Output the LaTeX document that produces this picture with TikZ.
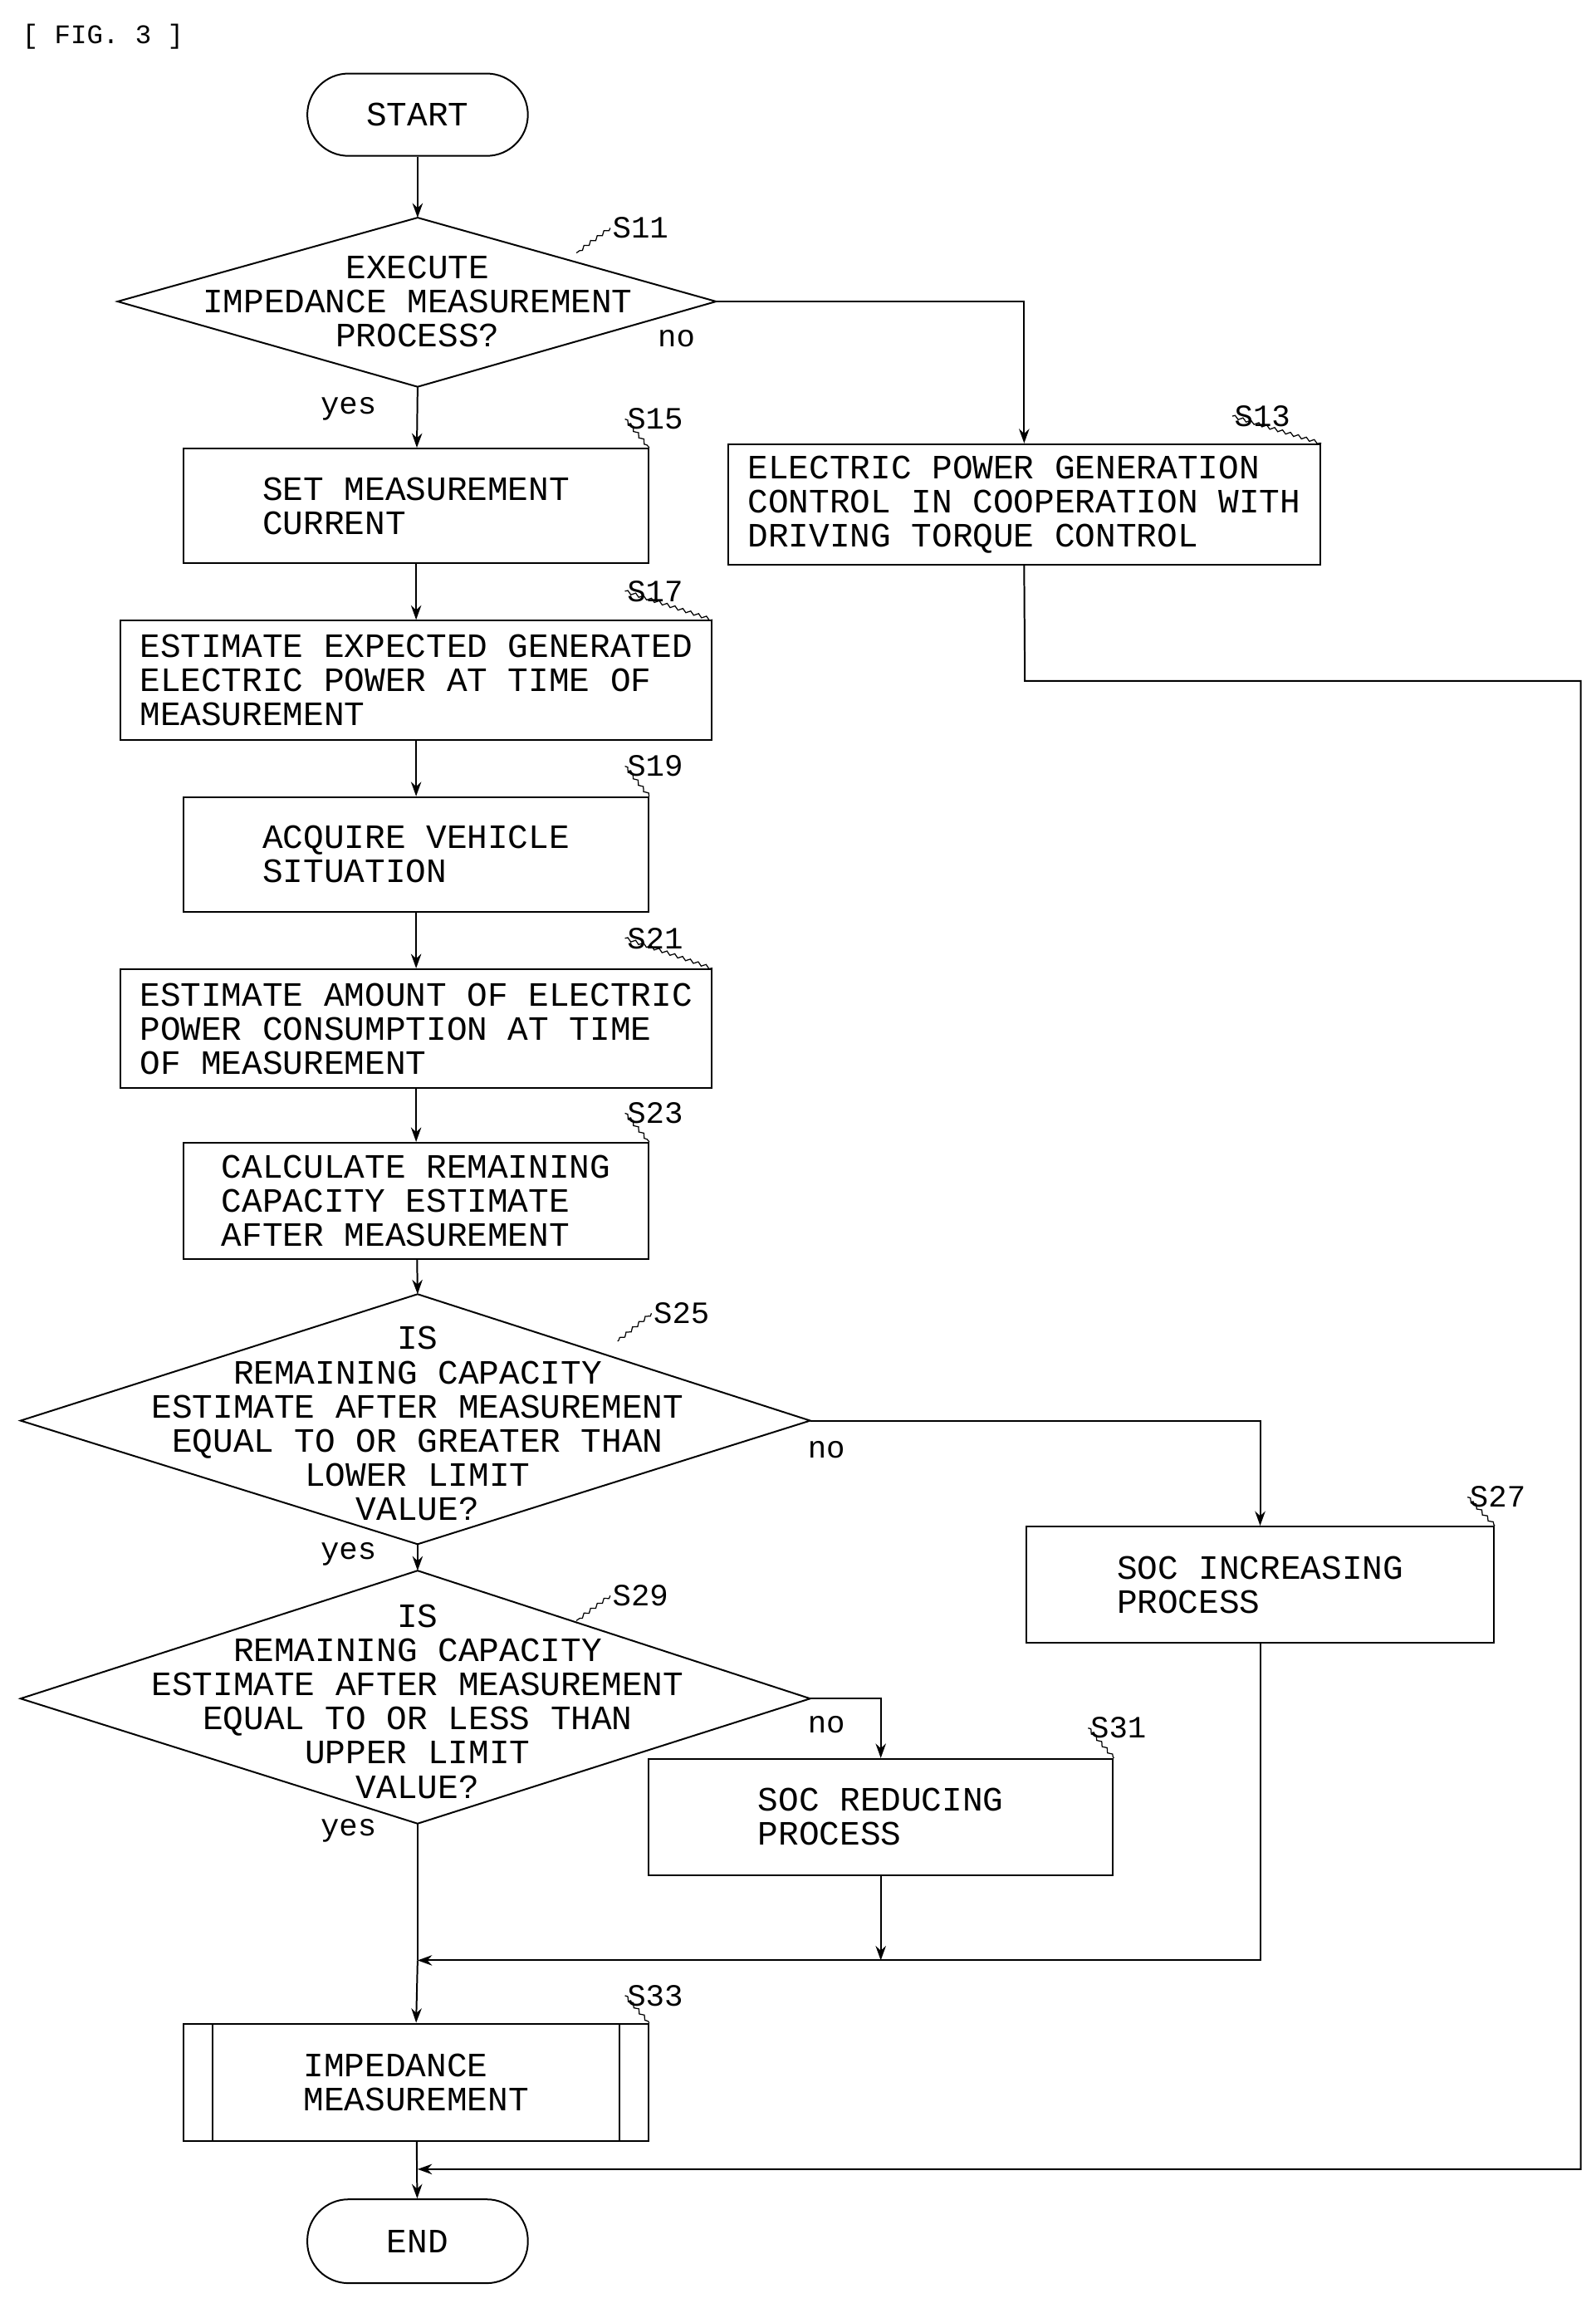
\documentclass[tikz,border=0pt]{standalone}
\usepackage{fontspec}
\setmainfont{Liberation Mono}
\usetikzlibrary{arrows.meta,decorations.pathmorphing}
\begin{document}
\begin{tikzpicture}[x=0.05cm,y=-0.05cm,
  every node/.style={font=\fontsize{33}{33}\selectfont},
  box/.style={draw,line width=1.6pt,align=left,inner sep=0pt},
  term/.style={draw,line width=1.6pt,rounded corners=1.4cm,inner sep=0pt},
  txt/.style={align=center,inner sep=0pt},
  ln/.style={line width=1.6pt},
  arr/.style={ln,-{Stealth[length=14pt,width=10pt]}},
  lab/.style={font=\fontsize{30}{30}\selectfont,anchor=west,inner sep=2pt},
  sq/.style={line width=1pt,decorate,decoration={snake,amplitude=1.5pt,segment length=8pt}},
  yn/.style={font=\fontsize{30}{30}\selectfont,inner sep=0pt}]
\useasboundingbox (0,0) rectangle (1085,1566);
\node[font=\fontsize{26}{26}\selectfont] (fig) at (70,25) {[ FIG. 3 ]};
% terminals
\node[term,minimum width=7.5cm,minimum height=2.8cm] (start) at (284,78) {START};
\node[term,minimum width=7.5cm,minimum height=2.85cm] (end) at (284,1524) {END};
% S11 diamond
\coordinate (d11t) at (284,148); \coordinate (d11b) at (284,263);
\coordinate (d11l) at (80,205); \coordinate (d11r) at (487,205);
\draw[ln] (d11t)--(d11r)--(d11b)--(d11l)--cycle;
\node[txt] (s11) at (284,205) {EXECUTE\\IMPEDANCE MEASUREMENT\\PROCESS?};
% boxes
\node[box,minimum width=15.8cm,minimum height=3.9cm] (s15) at (283,344) {SET MEASUREMENT\\CURRENT};
\node[box,minimum width=20.15cm,minimum height=4.1cm] (s13) at (696.5,343) {ELECTRIC POWER GENERATION\\CONTROL IN COOPERATION WITH\\DRIVING TORQUE CONTROL};
\node[box,minimum width=20.1cm,minimum height=4.05cm] (s17) at (283,462.5) {ESTIMATE EXPECTED GENERATED\\ELECTRIC POWER AT TIME OF\\MEASUREMENT\phantom{XXXXXXXXXXXXXXXX}};
\node[box,minimum width=15.8cm,minimum height=3.9cm] (s19) at (283,581) {ACQUIRE VEHICLE\\SITUATION\phantom{XXXXXX}};
\node[box,minimum width=20.1cm,minimum height=4.05cm] (s21) at (283,699.5) {ESTIMATE AMOUNT OF ELECTRIC\\POWER CONSUMPTION AT TIME\\OF MEASUREMENT\phantom{XXXXXXXXXXXXX}};
\node[box,minimum width=15.8cm,minimum height=3.95cm] (s23) at (283,816.5) {CALCULATE REMAINING\\CAPACITY ESTIMATE\\AFTER MEASUREMENT};
% S25 diamond
\coordinate (d25t) at (284,880); \coordinate (d25b) at (284,1050);
\coordinate (d25l) at (14,966); \coordinate (d25r) at (551,966);
\draw[ln] (d25t)--(d25r)--(d25b)--(d25l)--cycle;
\node[txt] (s25) at (284,968) {IS\\REMAINING CAPACITY\\ESTIMATE AFTER MEASUREMENT\\EQUAL TO OR GREATER THAN\\LOWER LIMIT\\VALUE?};
\node[box,minimum width=15.9cm,minimum height=3.95cm] (s27) at (857,1077.5) {SOC INCREASING\\PROCESS\phantom{XXXXXXX}};
% S29 diamond
\coordinate (d29t) at (284,1068); \coordinate (d29b) at (284,1240);
\coordinate (d29l) at (14,1155); \coordinate (d29r) at (551,1155);
\draw[ln] (d29t)--(d29r)--(d29b)--(d29l)--cycle;
\node[txt] (s29) at (284,1157) {IS\\REMAINING CAPACITY\\ESTIMATE AFTER MEASUREMENT\\EQUAL TO OR LESS THAN\\UPPER LIMIT\\VALUE?};
\node[box,minimum width=15.8cm,minimum height=3.95cm] (s31) at (599,1235.5) {SOC REDUCING\\PROCESS\phantom{XXXXX}};
\node[box,minimum width=15.8cm,minimum height=4cm] (s33) at (283,1416) {IMPEDANCE\\MEASUREMENT};
\draw[ln] ([xshift=1cm]s33.north west)--([xshift=1cm]s33.south west);
\draw[ln] ([xshift=-1cm]s33.north east)--([xshift=-1cm]s33.south east);
% connectors
\draw[arr] (start)--(d11t);
\draw[arr] (d11b)--(s15);
\draw[arr] (d11r)-|(s13.north);
\draw[arr] (s15)--(s17);
\draw[arr] (s17)--(s19);
\draw[arr] (s19)--(s21);
\draw[arr] (s21)--(s23);
\draw[arr] (s23)--(d25t);
\draw[arr] (d25b)--(d29t);
\draw[arr] (d25r)-|(s27.north);
\draw[arr] (d29r)-|(s31.north);
\coordinate (j1) at (284,1333);
\coordinate (j2) at (284,1475);
\draw[ln] (d29b)--(j1);
\draw[arr] (j1)--(s33.north);
\draw[arr] (s31.south)--(s31.south|-j1);
\draw[arr] (s27.south)|-(j1);
\draw[arr] (s33)--(end);
\coordinate (c1) at (697,463); \coordinate (c2) at (1075,463); \coordinate (c3) at (1075,1475);
\draw[arr] (s13.south)--(c1)--(c2)--(c3)--(j2);
% yes/no
\node[yn] (y11) at (237,278) {yes};
\node[yn] (n11) at (460,230) {no};
\node[yn] (y25) at (237,1057) {yes};
\node[yn] (n25) at (562,986) {no};
\node[yn] (y29) at (237,1245) {yes};
\node[yn] (n29) at (562,1173) {no};
% step labels
\node[lab] (l11) at (415,155) {S11};
\draw[sq] (l11.west)--(392,172);
\node[lab] (l15) at (425,285) {S15};
\draw[sq] (l15.west)--(s15.north east);
\node[lab] (l13) at (838,283) {S13};
\draw[sq] (l13.west)--(s13.north east);
\node[lab] (l17) at (425,402) {S17};
\draw[sq] (l17.west)--(s17.north east);
\node[lab] (l19) at (425,521) {S19};
\draw[sq] (l19.west)--(s19.north east);
\node[lab] (l21) at (425,638) {S21};
\draw[sq] (l21.west)--(s21.north east);
\node[lab] (l23) at (425,757) {S23};
\draw[sq] (l23.west)--(s23.north east);
\node[lab] (l25) at (443,893) {S25};
\draw[sq] (l25.west)--(420,912);
\node[lab] (l27) at (998,1018) {S27};
\draw[sq] (l27.west)--(s27.north east);
\node[lab] (l29) at (415,1085) {S29};
\draw[sq] (l29.west)--(392,1102);
\node[lab] (l31) at (740,1175) {S31};
\draw[sq] (l31.west)--(s31.north east);
\node[lab] (l33) at (425,1357) {S33};
\draw[sq] (l33.west)--(s33.north east);
\end{tikzpicture}
\end{document}
